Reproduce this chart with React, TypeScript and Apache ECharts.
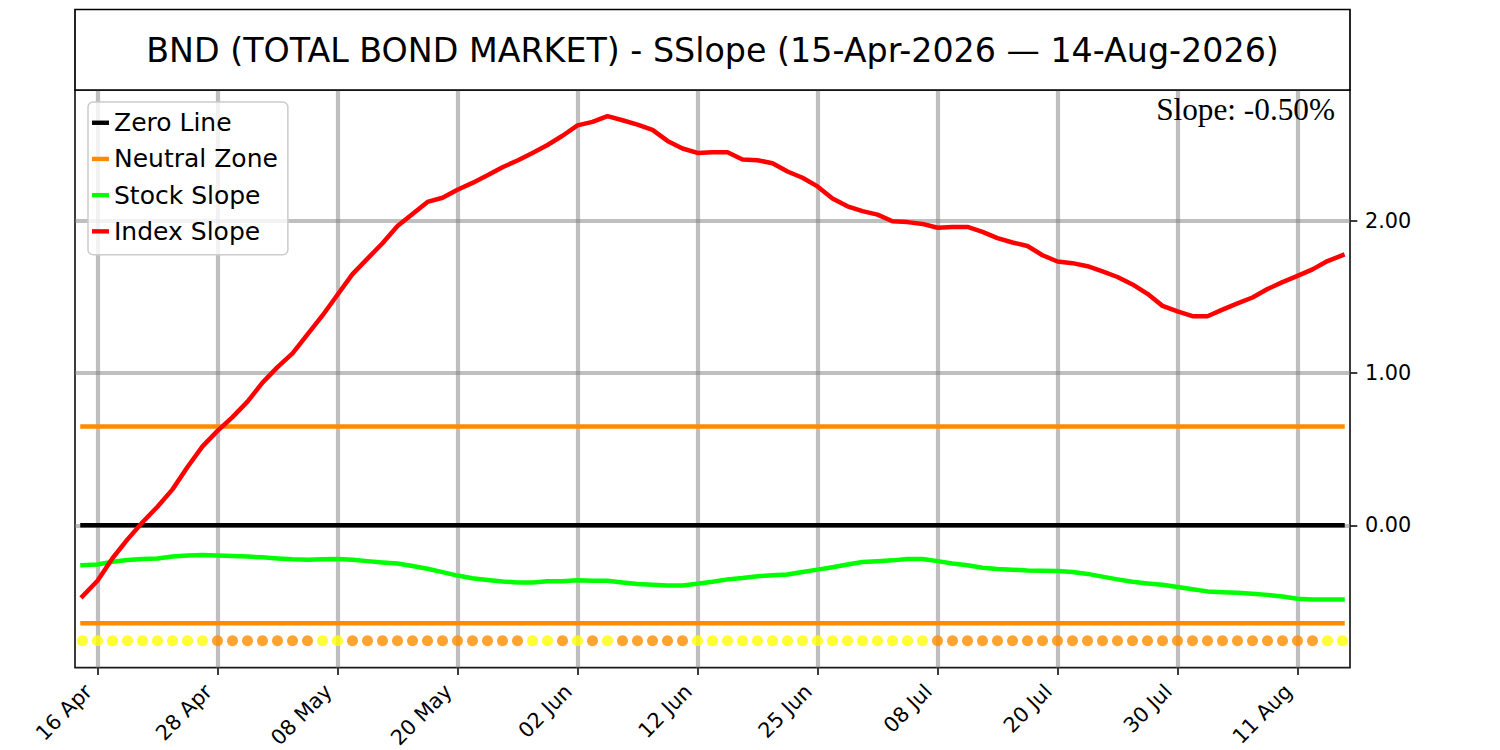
import React, { useEffect, useRef } from "react";
import * as echarts from "echarts";

// ---------- data ----------
const dateLabels: string[] = [
  "15 Apr", "16 Apr", "17 Apr", "20 Apr", "21 Apr", "22 Apr", "23 Apr", "24 Apr", "27 Apr", "28 Apr", "29 Apr", "30 Apr",
  "01 May", "04 May", "05 May", "06 May", "07 May", "08 May", "11 May", "12 May", "13 May", "14 May", "15 May", "18 May",
  "19 May", "20 May", "21 May", "22 May", "26 May", "27 May", "28 May", "29 May",
  "01 Jun", "02 Jun", "03 Jun", "04 Jun", "05 Jun", "08 Jun", "09 Jun", "10 Jun", "11 Jun", "12 Jun", "15 Jun", "16 Jun",
  "17 Jun", "18 Jun", "22 Jun", "23 Jun", "24 Jun", "25 Jun", "26 Jun", "29 Jun", "30 Jun",
  "01 Jul", "02 Jul", "06 Jul", "07 Jul", "08 Jul", "09 Jul", "10 Jul", "13 Jul", "14 Jul", "15 Jul", "16 Jul", "17 Jul",
  "20 Jul", "21 Jul", "22 Jul", "23 Jul", "24 Jul", "27 Jul", "28 Jul", "29 Jul", "30 Jul", "31 Jul",
  "03 Aug", "04 Aug", "05 Aug", "06 Aug", "07 Aug", "10 Aug", "11 Aug", "12 Aug", "13 Aug", "14 Aug",
];

const xTickIndices: number[] = [1, 9, 17, 25, 33, 41, 49, 57, 65, 73, 81];
const yTickValues: number[] = [0, 1, 2];

const indexSlope: number[] = [
  -0.467, -0.365, -0.217, -0.093, 0.02, 0.122, 0.236, 0.383, 0.519, 0.621,
  0.711, 0.813, 0.938, 1.04, 1.13, 1.255, 1.38, 1.516, 1.652, 1.754,
  1.855, 1.969, 2.048, 2.127, 2.154, 2.207, 2.252, 2.302, 2.355, 2.399,
  2.449, 2.501, 2.562, 2.63, 2.653, 2.691, 2.664, 2.635, 2.601, 2.528,
  2.478, 2.449, 2.454, 2.454, 2.406, 2.401, 2.381, 2.327, 2.286, 2.229,
  2.15, 2.098, 2.066, 2.043, 2.0, 1.994, 1.982, 1.957, 1.962, 1.962,
  1.93, 1.889, 1.86, 1.837, 1.776, 1.735, 1.724, 1.704, 1.67, 1.633,
  1.584, 1.522, 1.443, 1.407, 1.375, 1.375, 1.418, 1.459, 1.498, 1.554,
  1.599, 1.64, 1.683, 1.738, 1.776,
];

const stockSlope: number[] = [
  -0.263, -0.258, -0.24, -0.229, -0.222, -0.218, -0.206, -0.199, -0.195, -0.199,
  -0.202, -0.206, -0.211, -0.218, -0.224, -0.227, -0.224, -0.222, -0.227, -0.236,
  -0.245, -0.252, -0.268, -0.286, -0.308, -0.331, -0.349, -0.36, -0.37, -0.376,
  -0.376, -0.369, -0.369, -0.362, -0.365, -0.365, -0.376, -0.387, -0.392, -0.396,
  -0.396, -0.385, -0.372, -0.356, -0.347, -0.335, -0.329, -0.324, -0.308, -0.292,
  -0.276, -0.258, -0.242, -0.236, -0.231, -0.222, -0.222, -0.236, -0.252, -0.263,
  -0.279, -0.288, -0.292, -0.297, -0.299, -0.301, -0.308, -0.32, -0.338, -0.356,
  -0.372, -0.383, -0.392, -0.406, -0.421, -0.435, -0.44, -0.444, -0.451, -0.458,
  -0.469, -0.483, -0.489, -0.489, -0.489,
];

// signal state per day: Y = yellow marker, O = orange marker
const signalStates: string[] = [
  "Y", "Y", "Y", "Y", "Y", "Y", "Y", "Y", "Y",
  "O", "O", "O", "O", "O", "O", "O",
  "Y", "Y",
  "O", "O", "O", "O", "O", "O", "O", "O", "O", "O", "O", "O",
  "Y", "Y", "O", "Y", "O", "Y",
  "O", "O", "O", "O", "O",
  "Y", "Y", "Y", "Y", "Y", "Y", "Y", "Y", "Y", "Y", "Y", "Y", "Y", "Y", "Y", "Y",
  "O", "O", "O", "O", "O", "O", "O", "O", "O", "O", "O", "O", "O",
  "O", "O", "O", "O", "O", "O", "O", "O", "O", "O", "O", "O", "O",
  "Y", "Y",
];

const ZERO_LEVEL = 0;
const NEUTRAL_UPPER = 0.65;
const NEUTRAL_LOWER = -0.645;
const SIGNAL_LEVEL = -0.76;
const Y_MIN = -0.937;
const Y_MAX = 2.863;

const titleText = "BND (TOTAL BOND MARKET) - SSlope (15-Apr-2026 \u2014 14-Aug-2026)";
const slopeText = "Slope: -0.50%";

// ---------- styles ----------
const SANS = "DejaVu Sans";
const SERIF = "Liberation Serif";
const SPINE = "#1a1a1a";
const GRID_COLOR = "rgba(128,128,128,0.5)";
const ORANGE = "#ff8c00";
const YELLOW = "#ffff00";
const LW = 4.5;

export default function App() {
  const ref = useRef<HTMLDivElement>(null);

  useEffect(() => {
    if (!ref.current) return;
    const chart = echarts.init(ref.current, null, { renderer: "svg" });
    const N = dateLabels.length;
    const lastIdx = N - 1;

    const lineSeries = (name: string, color: string, data: number[][]) => ({
      type: "line",
      name,
      data,
      color,
      symbol: "none",
      showSymbol: false,
      silent: true,
      lineStyle: { color, width: LW, cap: "square", join: "round" },
      z: 2,
    });

    const option: any = {
      animation: false,
      backgroundColor: "#ffffff",
      grid: {
        left: 75,
        top: 90,
        width: 1275,
        height: 577.7,
        show: true,
        borderColor: SPINE,
        borderWidth: 1.7,
        backgroundColor: "transparent",
        containLabel: false,
        outerBoundsMode: "none",
      },
      xAxis: {
        type: "value",
        min: -0.5,
        max: N - 0.5,
        axisLine: { show: false, onZero: false },
        axisTick: {
          show: true,
          customValues: xTickIndices,
          length: 7.3,
          lineStyle: { color: SPINE, width: 1.7 },
        },
        axisLabel: {
          customValues: xTickIndices,
          formatter: (v: number) => dateLabels[Math.round(v)] ?? "",
          rotate: 45,
          margin: 11,
          padding: [0, 13, 0, 0],
          fontFamily: SANS,
          fontSize: 20.8,
          color: "#000",
        },
        splitLine: { show: true, lineStyle: { color: GRID_COLOR, width: 4.2 } },
      },
      yAxis: {
        type: "value",
        position: "right",
        min: Y_MIN,
        max: Y_MAX,
        axisLine: { show: false, onZero: false },
        axisTick: {
          show: true,
          customValues: yTickValues,
          length: 7.3,
          lineStyle: { color: SPINE, width: 1.7 },
        },
        axisLabel: {
          customValues: yTickValues,
          formatter: (v: number) => v.toFixed(2),
          margin: 15,
          fontFamily: SANS,
          fontSize: 20.8,
          color: "#000",
        },
        splitLine: { show: true, lineStyle: { color: GRID_COLOR, width: 4.2 } },
      },
      legend: {
        orient: "vertical",
        left: 88,
        top: 102,
        padding: [8, 10, 10.6, 4],
        itemGap: 10.7,
        itemWidth: 17,
        itemHeight: 4.4,
        icon: "rect",
        selectedMode: false,
        backgroundColor: "rgba(255,255,255,0.8)",
        borderColor: "#cccccc",
        borderWidth: 1.5,
        borderRadius: 5,
        textStyle: { fontFamily: SANS, fontSize: 25, color: "#000", lineHeight: 25.5 },
        data: ["Zero Line", "Neutral Zone", "Stock Slope", "Index Slope"],
        z: 10,
      },
      graphic: [
        {
          type: "rect",
          shape: { x: 75, y: 9.5, width: 1275, height: 80.5 },
          style: { fill: "#ffffff", stroke: "#000000", lineWidth: 1.7 },
          z: 5,
        },
        {
          type: "text",
          x: 712.5,
          y: 50,
          style: {
            text: titleText,
            font: `33.3px "${SANS}"`,
            fill: "#000",
            textAlign: "center",
            textVerticalAlign: "middle",
          },
          z: 6,
        },
        {
          type: "text",
          x: 1335,
          y: 109,
          style: {
            text: slopeText,
            font: `31.25px "${SERIF}"`,
            fill: "#000",
            textAlign: "right",
            textVerticalAlign: "middle",
          },
          z: 6,
        },
      ],
      series: [
        lineSeries("Zero Line", "#000000", [[0, ZERO_LEVEL], [lastIdx, ZERO_LEVEL]]),
        lineSeries("Neutral Zone", ORANGE, [[0, NEUTRAL_UPPER], [lastIdx, NEUTRAL_UPPER]]),
        lineSeries("Neutral Zone", ORANGE, [[0, NEUTRAL_LOWER], [lastIdx, NEUTRAL_LOWER]]),
        lineSeries("Stock Slope", "#00ff00", stockSlope.map((v, i) => [i, v])),
        lineSeries("Index Slope", "#ff0000", indexSlope.map((v, i) => [i, v])),
        {
          type: "scatter",
          name: "Signals",
          symbol: "circle",
          symbolSize: 11,
          silent: true,
          data: signalStates.map((s, i) => ({
            value: [i, SIGNAL_LEVEL],
            itemStyle: { color: s === "O" ? ORANGE : YELLOW },
          })),
          z: 3,
        },
      ],
    };

    chart.setOption(option);
    return () => chart.dispose();
  }, []);

  return (
    <div
      ref={ref}
      style={{ position: "fixed", left: 0, top: 0, width: 1500, height: 750, background: "#fff" }}
    />
  );
}
